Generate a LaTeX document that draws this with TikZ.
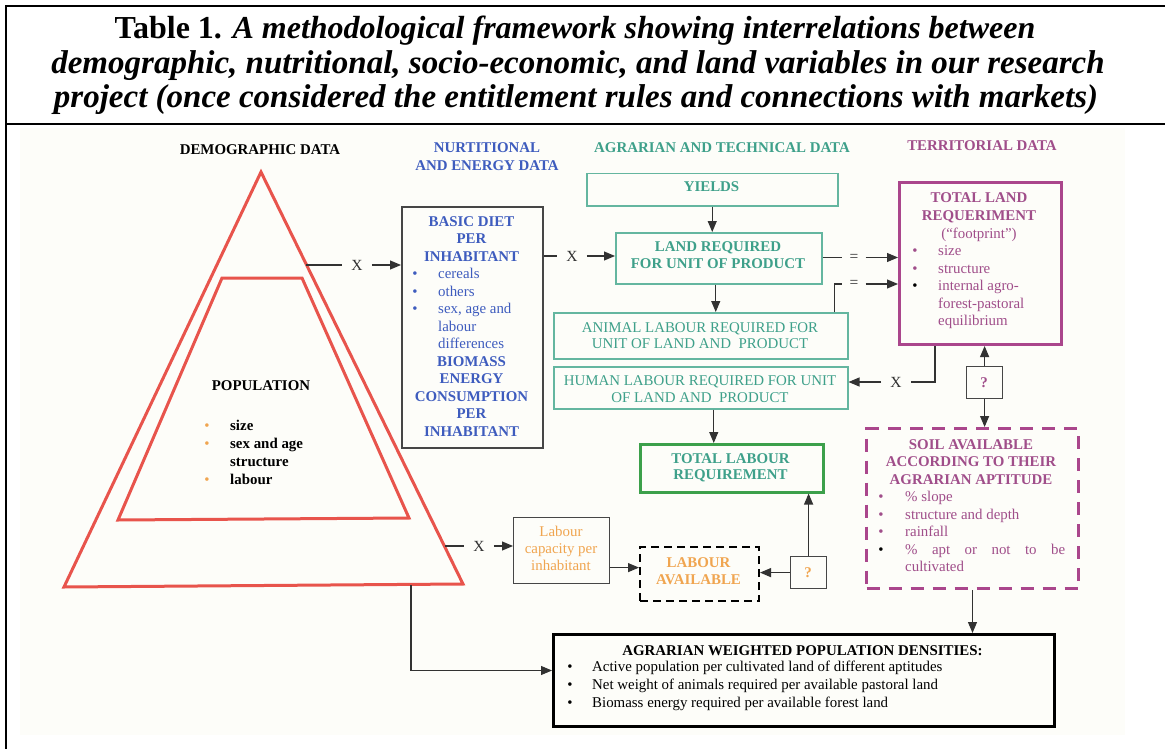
\documentclass[tikz,border=0pt]{standalone}
\usepackage{fontspec}
\setmainfont{Liberation Serif}
\usetikzlibrary{arrows.meta}
\definecolor{trired}{RGB}{232,84,76}
\definecolor{blu}{RGB}{62,92,190}
\definecolor{tealt}{RGB}{62,160,138}
\definecolor{tealb}{RGB}{100,182,160}
\definecolor{grn}{RGB}{60,160,75}
\definecolor{mauve}{RGB}{160,78,138}
\definecolor{mauveb}{RGB}{170,70,140}
\definecolor{orng}{RGB}{240,165,80}
\definecolor{conn}{RGB}{50,50,50}
\definecolor{boxg}{RGB}{70,70,70}
\definecolor{bgc}{RGB}{253,253,249}
\newcommand\myfs{\fontsize{14.9}{17.5}\selectfont}
\newcommand\ttl{\fontsize{33}{35}\selectfont\bfseries}
\newcommand\bul[1]{{\color{#1}\textbullet}}
\begin{document}
\begin{tikzpicture}[x=1pt,y=-1pt,
  arr/.style={draw=conn, line width=1.1pt, -{Triangle[length=11pt,width=9pt]}},
  ln/.style={draw=conn, line width=1.1pt},
  box/.style={rectangle, inner sep=0pt, anchor=north west},
  tx/.style={inner sep=0pt, anchor=base, font=\myfs},
  btx/.style={inner sep=0pt, anchor=base, font=\myfs\bfseries},
  lt/.style={inner sep=0pt, anchor=base west, font=\myfs},
  blt/.style={inner sep=0pt, anchor=base west, font=\myfs\bfseries},
  bl/.style={inner sep=0pt, anchor=base, font=\myfs},
  xlab/.style={inner xsep=9pt, inner ysep=2pt, font=\fontsize{15.5}{15}\selectfont, text=conn},
  tri/.style={draw=trired, line width=3pt, line join=miter}
]
\useasboundingbox (0,0) rectangle (1165,749);
% background and frame
\fill[bgc] (20,128) rectangle (1125,735);
\draw[line width=2.5pt] (6,749) -- (6,6) -- (1165,6);
\draw[line width=2.5pt] (6,124) -- (1165,124);
% title
\node[inner sep=0pt, anchor=base] (t1) at (575,39) {\fontsize{32}{35}\selectfont\bfseries Table 1. \itshape A methodological framework showing interrelations between};
\node[inner sep=0pt, anchor=base] (t2) at (578,74) {\ttl\itshape demographic, nutritional, socio-economic, and land variables in our research};
\node[inner sep=0pt, anchor=base] (t3) at (576,108) {\ttl\itshape project (once considered the entitlement rules and connections with markets)};
% headers
\node[btx] (hdemo) at (260,155) {DEMOGRAPHIC DATA};
\node[btx, text=blu] (hnut1) at (487,153) {NURTITIONAL};
\node[btx, text=blu] (hnut2) at (487,171) {AND ENERGY DATA};
\node[btx, text=tealt] (hagr) at (722,153) {AGRARIAN AND TECHNICAL DATA};
\node[btx, text=mauve] (hter) at (982,150) {TERRITORIAL DATA};
% triangle
\draw[tri] (261,172) -- (463,584) -- (64,587) -- cycle;
\draw[tri] (222,278) -- (302,278) -- (409,518) -- (118,520) -- cycle;
\coordinate (tri1) at (306,265);
\coordinate (tri2) at (445,546);
\coordinate (tri3) at (411,585);
\node[btx] (pop) at (261,390) {POPULATION};
\node[bl] (pb1) at (207,430) {\bul{orng}};
\node[blt] (pt1) at (230,430) {size};
\node[bl] (pb2) at (207,448) {\bul{orng}};
\node[blt] (pt2) at (230,448) {sex and age};
\node[blt] (pt3) at (230,466) {structure};
\node[bl] (pb4) at (207,484) {\bul{orng}};
\node[blt] (pt4) at (230,484) {labour};
% blue box
\node[box, draw=boxg, line width=2pt, minimum width=141pt, minimum height=241pt] (blue) at (401,206) {};
\node[btx, text=blu] (b1) at (471.5,226) {BASIC DIET};
\node[btx, text=blu] (b2) at (471.5,243.5) {PER};
\node[btx, text=blu] (b3) at (471.5,261) {INHABITANT};
\node[bl] (bb1) at (415,278.5) {\bul{blu}};
\node[lt, text=blu] (bt1) at (438,278.5) {cereals};
\node[bl] (bb2) at (415,296) {\bul{blu}};
\node[lt, text=blu] (bt2) at (438,296) {others};
\node[bl] (bb3) at (415,313.5) {\bul{blu}};
\node[lt, text=blu] (bt3) at (438,313.5) {sex, age and};
\node[lt, text=blu] (bt4) at (438,331) {labour};
\node[lt, text=blu] (bt5) at (438,348.5) {differences};
\node[btx, text=blu] (b4) at (471.5,366) {BIOMASS};
\node[btx, text=blu] (b5) at (471.5,383.5) {ENERGY};
\node[btx, text=blu] (b6) at (471.5,401) {CONSUMPTION};
\node[btx, text=blu] (b7) at (471.5,418.5) {PER};
\node[btx, text=blu] (b8) at (471.5,436) {INHABITANT};
% agrarian column
\node[box, draw=tealb, line width=1.5pt, minimum width=251pt, minimum height=32pt] (yields) at (586,173) {};
\node[btx, text=tealt] (yt) at (711.5,192) {YIELDS};
\node[box, draw=tealb, line width=1.5pt, minimum width=206pt, minimum height=51pt] (land) at (615,232) {};
\node[btx, text=tealt] (lt1) at (718,251) {LAND REQUIRED};
\node[btx, text=tealt] (lt2) at (718,268) {FOR UNIT OF PRODUCT};
\node[box, draw=tealb, line width=1.5pt, minimum width=294pt, minimum height=46pt] (animal) at (553,312) {};
\node[tx, text=tealt] (at1) at (700,332) {ANIMAL LABOUR REQUIRED FOR};
\node[tx, text=tealt] (at2) at (700,348.5) {UNIT OF LAND AND\ \ PRODUCT};
\node[box, draw=tealb, line width=1.5pt, minimum width=294pt, minimum height=42pt] (human) at (553,366) {};
\node[tx, text=tealt] (ht1) at (700,385) {HUMAN LABOUR REQUIRED FOR UNIT};
\node[tx, text=tealt] (ht2) at (700,402) {OF LAND AND\ \ PRODUCT};
\node[box, draw=grn, line width=2.5pt, minimum width=183pt, minimum height=48pt] (tlab) at (639,443) {};
\node[btx, text=tealt] (tl1) at (730.5,463) {TOTAL LABOUR};
\node[btx, text=tealt] (tl2) at (730.5,479) {REQUIREMENT};
% labour
\node[box, draw=boxg, line width=1.2pt, minimum width=96pt, minimum height=66pt] (lcap) at (513,517) {};
\node[tx, text=orng] (lc1t) at (561,536) {Labour};
\node[tx, text=orng] (lc2t) at (561,553) {capacity per};
\node[tx, text=orng] (lc3t) at (561,570) {inhabitant};
\node[box, draw=black, line width=2pt, dash pattern=on 8pt off 5pt, minimum width=119pt, minimum height=54pt] (lav) at (639,546) {};
\node[btx, text=orng] (la1) at (698.5,567) {LABOUR};
\node[btx, text=orng] (la2) at (698.5,584) {AVAILABLE};
\node[box, draw=boxg, line width=1.2pt, minimum width=36pt, minimum height=32pt] (qb) at (790,556) {};
\node[btx, text=orng] (qbt) at (808,577) {?};
% territorial
\node[box, draw=mauveb, line width=3pt, minimum width=162pt, minimum height=162pt] (tland) at (898,181) {};
\node[btx, text=mauve] (tt1) at (979,203) {TOTAL LAND};
\node[btx, text=mauve] (tt2) at (979,220.5) {REQUERIMENT};
\node[tx, text=mauve] (tt3) at (979,238) {(“footprint”)};
\node[bl] (tb1) at (915,255.5) {\bul{mauve}};
\node[lt, text=mauve] (tx1) at (938,255.5) {size};
\node[bl] (tb2) at (915,273) {\bul{mauve}};
\node[lt, text=mauve] (tx2) at (938,273) {structure};
\node[bl] (tb3) at (915,290.5) {\bul{black}};
\node[lt, text=mauve] (tx3) at (938,290.5) {internal agro-};
\node[lt, text=mauve] (tx4) at (938,308) {forest-pastoral};
\node[lt, text=mauve] (tx5) at (938,325.5) {equilibrium};
\node[box, draw=boxg, line width=1.2pt, minimum width=36pt, minimum height=32pt] (qr) at (966,366) {};
\node[btx, text=mauve] (qrt) at (984,387) {?};
\node[box, draw=mauveb, line width=3pt, dash pattern=on 13pt off 9pt, minimum width=212pt, minimum height=160pt] (soil) at (865,427) {};
\node[btx, text=mauve] (s1) at (971,449) {SOIL AVAILABLE};
\node[btx, text=mauve] (s2) at (971,466.5) {ACCORDING TO THEIR};
\node[btx, text=mauve] (s3) at (971,484) {AGRARIAN APTITUDE};
\node[bl] (sb1) at (881,501.5) {\bul{mauve}};
\node[lt, text=mauve] (sx1) at (905,501.5) {\% slope};
\node[bl] (sb2) at (881,519) {\bul{mauve}};
\node[lt, text=mauve] (sx2) at (905,519) {structure and depth};
\node[bl] (sb3) at (881,536.5) {\bul{mauve}};
\node[lt, text=mauve] (sx3) at (905,536.5) {rainfall};
\node[bl] (sb4) at (881,554) {\bul{black}};
\node[lt, text=mauve] (sx4) at (905,554) {\makebox[160pt][s]{\% apt or not to be}};
\node[lt, text=mauve] (sx5) at (905,571.5) {cultivated};
% bottom box
\node[box, draw=black, line width=3pt, minimum width=501pt, minimum height=92pt] (agr) at (552,633) {};
\node[btx] (ag0) at (802.5,655) {AGRARIAN WEIGHTED POPULATION DENSITIES:};
\node[bl] (agb1) at (570,671) {\bul{black}};
\node[lt] (ag1) at (592,671) {Active population per cultivated land of different aptitudes};
\node[bl] (agb2) at (570,689) {\bul{black}};
\node[lt] (ag2) at (592,689) {Net weight of animals required per available pastoral land};
\node[bl] (agb3) at (570,707) {\bul{black}};
\node[lt] (ag3) at (592,707) {Biomass energy required per available forest land};
% connector labels
\node[xlab] (x1) at (357,265) {X};
\node[xlab] (x2) at (572,256) {X};
\node[xlab] (x3) at (896,382) {X};
\node[xlab] (x4) at (479,546) {X};
\node[xlab, inner xsep=7pt] (eq1) at (854,257.5) {=};
\node[xlab, inner xsep=7pt] (eq2) at (854,284) {=};
% connectors
\draw[ln] (tri1) -- (x1);
\draw[arr] (x1) -- (x1 -| blue.west);
\draw[ln] (x2 -| blue.east) -- (x2);
\draw[arr] (x2) -- (x2 -| land.west);
\draw[arr] (yields.south) -- (yields.south |- land.north);
\coordinate (la) at ([xshift=-3pt]land.south);
\draw[arr] (la) -- (la |- animal.north);
\coordinate (hu) at ([xshift=13pt]human.south);
\draw[arr] (hu) -- (hu |- tlab.north);
\draw[ln] (eq1 -| land.east) -- (eq1);
\draw[arr] (eq1) -- (eq1 -| tland.west);
\draw[ln] ([xshift=-14pt]animal.north east) |- (eq2);
\draw[arr] (eq2) -- (eq2 -| tland.west);
\draw[ln] ([xshift=37pt]tland.south west) |- (x3);
\draw[arr] (x3) -- (x3 -| human.east);
\draw[arr] (qr.north) -- (qr.north |- tland.south);
\draw[arr] (qr.south) -- (qr.south |- soil.north);
\draw[arr] (soil.south) -- (soil.south |- agr.north);
\draw[ln] (tri2) -- (x4);
\draw[arr] (x4) -- (x4 -| lcap.west);
\coordinate (lcx) at ([yshift=-17pt]lcap.east);
\draw[arr] (lcx) -- (lcx -| lav.west);
\draw[arr] (qb.west) -- (qb.west -| lav.east);
\draw[arr] (qb.north) -- (qb.north |- tlab.south);
\draw[arr] (tri3) |- ([yshift=10pt]agr.west);
\end{tikzpicture}
\end{document}
